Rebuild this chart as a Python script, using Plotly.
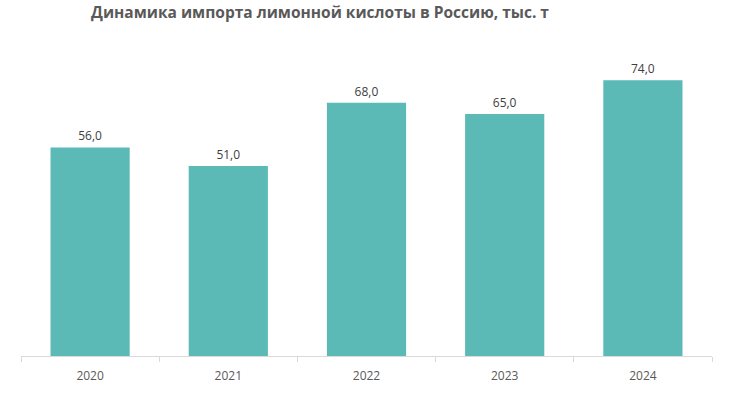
import plotly.graph_objects as go

years = ["2020", "2021", "2022", "2023", "2024"]
values = [56.0, 51.0, 68.0, 65.0, 74.0]
labels = [f"{v:.1f}".replace(".", ",") for v in values]

fig = go.Figure(go.Bar(
    x=years, y=values, text=labels, textposition="outside",
    textfont=dict(family="Open Sans", size=12, color="#404040"),
    marker=dict(color="#5BBAB5", line=dict(width=0)),
    cliponaxis=False, hoverinfo="skip",
))

fig.update_layout(
    width=747, height=393,
    margin=dict(l=21, r=35, t=58, b=37),
    paper_bgcolor="white", plot_bgcolor="white",
    bargap=0.427,
    showlegend=False,
    title=dict(text="<b>Динамика импорта лимонной кислоты в Россию, тыс. т</b>",
               x=320/747, xanchor="center", y=1-13/393, yanchor="middle",
               font=dict(family="Open Sans", size=15.5, color="#595959")),
    xaxis=dict(type="category", showline=True, linecolor="#d9d9d9", linewidth=1,
               ticks="outside", tickson="boundaries", ticklen=5, tickcolor="#d9d9d9",
               ticklabelstandoff=9, automargin=False,
               tickfont=dict(family="Open Sans", size=12, color="#595959"),
               showgrid=False),
    yaxis=dict(range=[0, 80], visible=False, showgrid=False, zeroline=False),
)

fig.write_html("out.html")
